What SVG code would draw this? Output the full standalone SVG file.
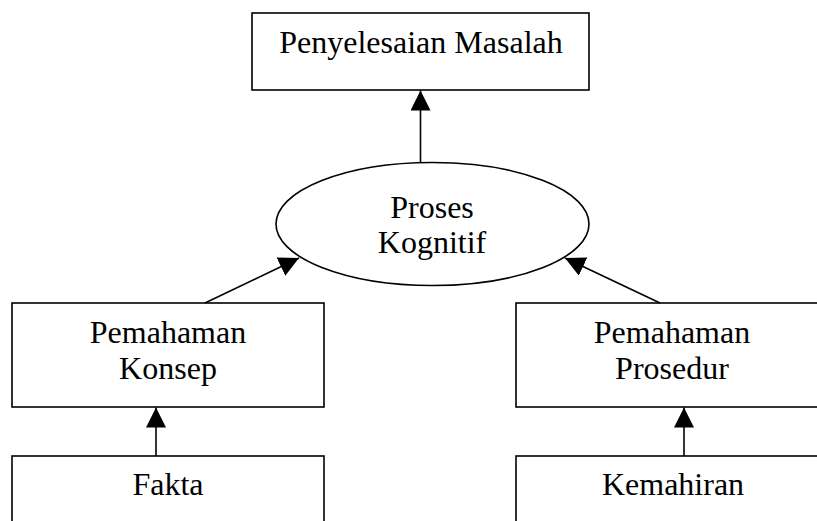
<svg xmlns="http://www.w3.org/2000/svg" width="817" height="521" viewBox="0 0 817 521">
<style>
.box{fill:#fff;stroke:#000;stroke-width:1.6}
.t{font-family:"Liberation Serif","Times New Roman",serif;font-size:32px;fill:#000;text-anchor:middle}
.c{stroke:#000;stroke-width:1.6;fill:none;marker-end:url(#ah)}
</style>
<defs>
<marker id="ah" markerUnits="userSpaceOnUse" markerWidth="20" markerHeight="20" refX="20" refY="10" orient="auto" viewBox="0 0 20 20">
<path d="M0,0 L20,10 L0,20 z" fill="#000"/>
</marker>
</defs>
<rect width="817" height="521" fill="#fff"/>
<g id="penyelesaian">
<rect class="box" x="252" y="13" width="337" height="77"/>
<text class="t" x="421" y="53">Penyelesaian Masalah</text>
</g>
<g id="proses">
<ellipse class="box" cx="432.5" cy="224" rx="156.5" ry="61.5"/>
<text class="t" x="432" y="218">Proses</text>
<text class="t" x="432" y="253">Kognitif</text>
</g>
<g id="konsep">
<rect class="box" x="12" y="303" width="312" height="104"/>
<text class="t" x="168" y="343">Pemahaman</text>
<text class="t" x="168" y="379">Konsep</text>
</g>
<g id="prosedur">
<rect class="box" x="516" y="303" width="320" height="104"/>
<text class="t" x="672" y="343">Pemahaman</text>
<text class="t" x="672" y="379">Prosedur</text>
</g>
<g id="fakta">
<rect class="box" x="12" y="456" width="312" height="90"/>
<text class="t" x="168" y="495">Fakta</text>
</g>
<g id="kemahiran">
<rect class="box" x="516" y="456" width="320" height="90"/>
<text class="t" x="673" y="495">Kemahiran</text>
</g>
<g id="connectors">
<line class="c" x1="420.5" y1="162.5" x2="420.5" y2="90.5"/>
<line class="c" x1="205" y1="303" x2="299" y2="258"/>
<line class="c" x1="660" y1="303" x2="565" y2="258"/>
<line class="c" x1="156" y1="456" x2="156" y2="407.5"/>
<line class="c" x1="684" y1="456" x2="684" y2="407.5"/>
</g>
</svg>
